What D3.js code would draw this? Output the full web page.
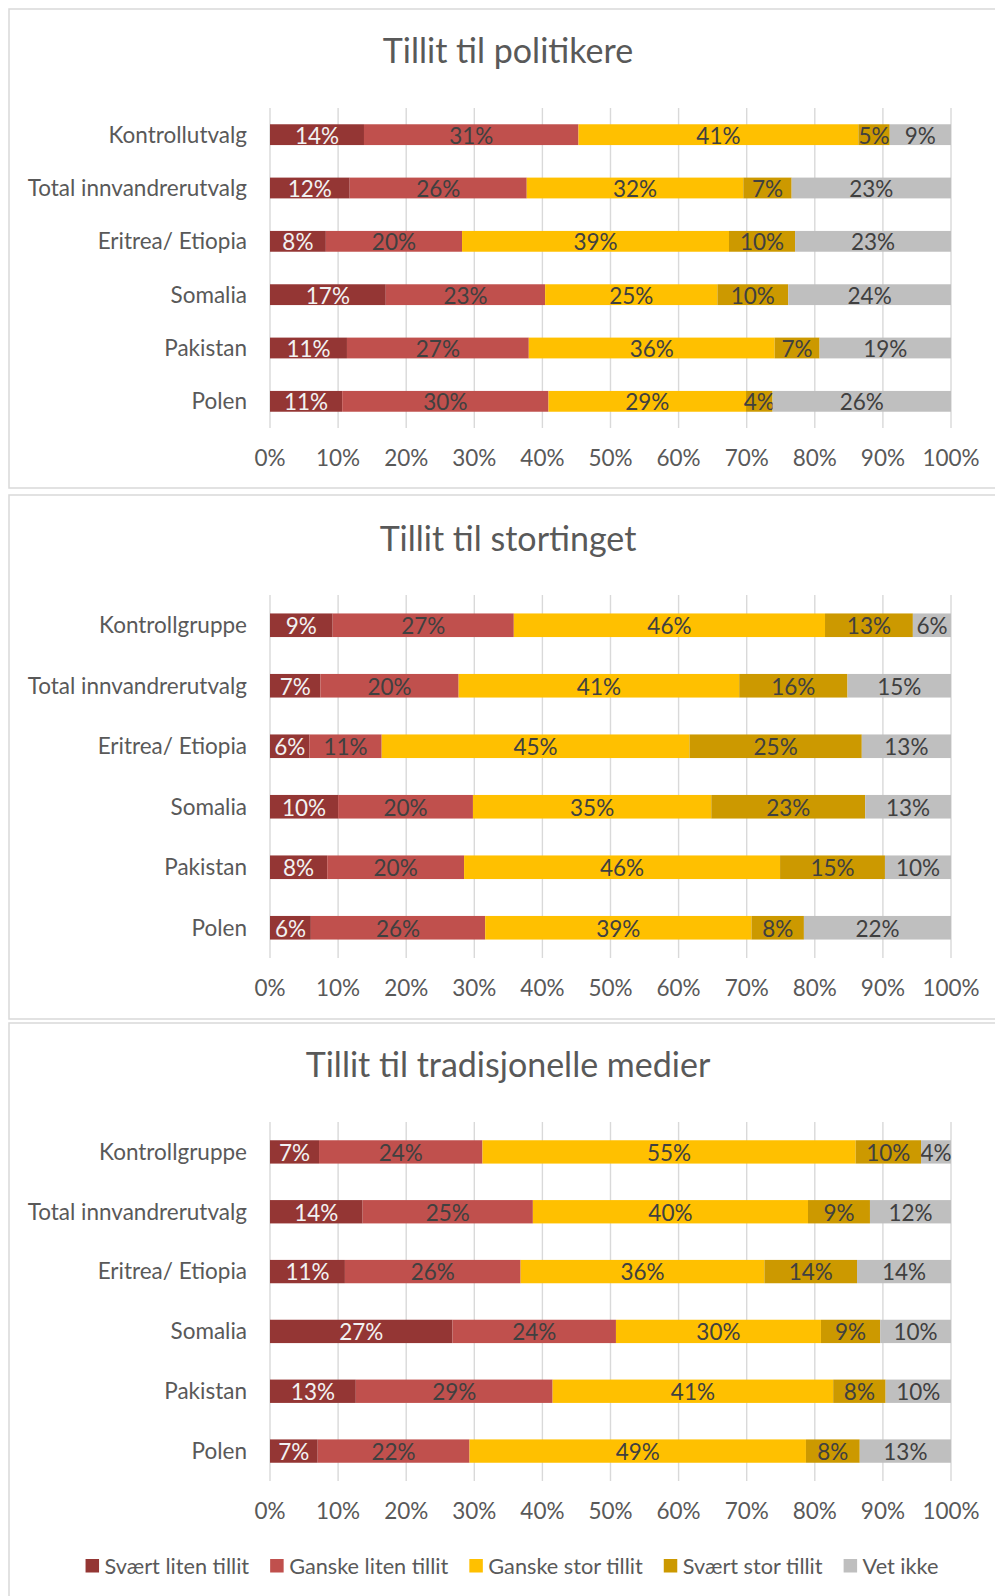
<!DOCTYPE html>
<html>
<head>
<meta charset="utf-8">
<script src="https://cdn.jsdelivr.net/npm/d3@7"></script>
<style>
  body { margin: 0; background: #fff; }
  svg { display: block; font-family: Lato, "Open Sans", sans-serif; }
</style>
</head>
<body>
<div id="chart"></div>
<script>
// series (stack order, left to right)
const seriesNames = ["Svært liten tillit", "Ganske liten tillit", "Ganske stor tillit", "Svært stor tillit", "Vet ikke"];
const seriesColors = ["#943634", "#c0504d", "#ffc000", "#cc9900", "#bfbfbf"];

const xTicks = [0, 10, 20, 30, 40, 50, 60, 70, 80, 90, 100];

// panel 1
const politikereTitle = "Tillit til politikere";
const politikereCats = ["Kontrollutvalg", "Total innvandrerutvalg", "Eritrea/ Etiopia", "Somalia", "Pakistan", "Polen"];
const politikereVals = [
  [13.8, 31.5, 41.1, 4.6, 9.0],
  [11.7, 26.0, 31.8, 7.1, 23.4],
  [8.2, 20.0, 39.2, 9.7, 22.9],
  [17.0, 23.4, 25.3, 10.4, 23.9],
  [11.3, 26.7, 36.1, 6.6, 19.3],
  [10.6, 30.3, 29.0, 3.9, 26.2]
];

// panel 2
const stortingetTitle = "Tillit til stortinget";
const stortingetCats = ["Kontrollgruppe", "Total innvandrerutvalg", "Eritrea/ Etiopia", "Somalia", "Pakistan", "Polen"];
const stortingetVals = [
  [9.2, 26.6, 45.7, 12.9, 5.6],
  [7.4, 20.3, 41.2, 15.9, 15.2],
  [5.8, 10.6, 45.2, 25.3, 13.1],
  [10.0, 19.8, 35.0, 22.6, 12.6],
  [8.4, 20.1, 46.4, 15.4, 9.7],
  [6.0, 25.6, 39.1, 7.7, 21.6]
];

// panel 3
const medierTitle = "Tillit til tradisjonelle medier";
const medierCats = ["Kontrollgruppe", "Total innvandrerutvalg", "Eritrea/ Etiopia", "Somalia", "Pakistan", "Polen"];
const medierVals = [
  [7.2, 24.0, 54.8, 9.6, 4.4],
  [13.6, 25.0, 40.4, 9.1, 11.9],
  [11.0, 25.8, 35.8, 13.6, 13.8],
  [26.8, 24.0, 30.1, 8.7, 10.4],
  [12.6, 28.9, 41.2, 7.7, 9.6],
  [7.0, 22.3, 49.4, 7.9, 13.4]
];

const width = 995, height = 1596;
const textColor = "#595959";

const svg = d3.select("#chart")
  .append("svg")
  .attr("width", width)
  .attr("height", height);

const x = d3.scaleLinear().domain([0, 100]).range([270, 951]);

function drawPanel(title, cats, vals, box) {
  const g = svg.append("g");

  g.append("rect")
    .attr("x", 9)
    .attr("y", box.y0)
    .attr("width", 998)
    .attr("height", box.y1 - box.y0)
    .attr("fill", "#fff")
    .attr("stroke", "#d9d9d9")
    .attr("stroke-width", 1.5);

  g.append("text")
    .attr("x", 508)
    .attr("y", box.titleY)
    .attr("text-anchor", "middle")
    .attr("fill", textColor)
    .style("font-size", "34px")
    .text(title);

  const y = d3.scaleBand()
    .domain(cats)
    .range([box.top, box.bottom])
    .paddingInner(0.61)
    .paddingOuter(0.305);

  // grid
  g.append("g")
    .selectAll("line")
    .data(xTicks)
    .join("line")
    .attr("x1", d => x(d))
    .attr("x2", d => x(d))
    .attr("y1", box.top)
    .attr("y2", box.bottom)
    .attr("stroke", "#d9d9d9")
    .attr("stroke-width", 1.4);

  // x tick labels
  g.append("g")
    .selectAll("text")
    .data(xTicks)
    .join("text")
    .attr("x", d => x(d))
    .attr("y", box.bottom + 30)
    .attr("dy", "0.35em")
    .attr("text-anchor", "middle")
    .attr("fill", textColor)
    .style("font-size", "22.5px")
    .text(d => d + "%");

  // category labels
  g.append("g")
    .selectAll("text")
    .data(cats)
    .join("text")
    .attr("x", 247)
    .attr("y", d => y(d) + y.bandwidth() / 2)
    .attr("dy", "0.35em")
    .attr("text-anchor", "end")
    .attr("fill", textColor)
    .style("font-size", "22.5px")
    .text(d => d);

  const rows = cats.map((c, i) => {
    const r = { cat: c };
    seriesNames.forEach((s, j) => r[s] = vals[i][j]);
    return r;
  });
  const stacked = d3.stack().keys(seriesNames)(rows);

  const layers = g.append("g")
    .selectAll("g")
    .data(stacked)
    .join("g")
    .attr("fill", (d, i) => seriesColors[i]);

  layers.selectAll("rect")
    .data(d => d)
    .join("rect")
    .attr("x", d => x(d[0]))
    .attr("y", d => y(d.data.cat))
    .attr("width", d => x(d[1]) - x(d[0]))
    .attr("height", y.bandwidth());

  layers.selectAll("text")
    .data((d, i) => d.map(p => ({ p: p, i: i })))
    .join("text")
    .attr("x", d => (x(d.p[0]) + x(d.p[1])) / 2)
    .attr("y", d => y(d.p.data.cat) + y.bandwidth() / 2 + 1)
    .attr("dy", "0.35em")
    .attr("text-anchor", "middle")
    .attr("fill", d => d.i === 0 ? "#f2f2f2" : "#404040")
    .style("font-size", "22.5px")
    .text(d => Math.round(d.p[1] - d.p[0]) + "%");
}

drawPanel(politikereTitle, politikereCats, politikereVals,
  { y0: 9, y1: 488, titleY: 63, top: 108, bottom: 428 });
drawPanel(stortingetTitle, stortingetCats, stortingetVals,
  { y0: 495, y1: 1019, titleY: 551, top: 595, bottom: 958 });
drawPanel(medierTitle, medierCats, medierVals,
  { y0: 1023, y1: 1610, titleY: 1077, top: 1122, bottom: 1481 });

// legend
const legend = svg.append("g");
const items = legend.selectAll("g")
  .data(seriesNames)
  .join("g");

items.append("rect")
  .attr("width", 13.5)
  .attr("height", 13.5)
  .attr("y", 1559)
  .attr("fill", (d, i) => seriesColors[i]);

items.append("text")
  .attr("x", 19)
  .attr("y", 1566)
  .attr("dy", "0.35em")
  .attr("fill", textColor)
  .style("font-size", "21.7px")
  .text(d => d);

// place items one after the other, centred
let offsets = [], pos = 0;
items.each(function () {
  offsets.push(pos);
  pos += 19 + d3.select(this).select("text").node().getComputedTextLength() + 21;
});
const total = pos - 21;
const start = 512 - total / 2;
items.attr("transform", (d, i) => `translate(${start + offsets[i]},0)`);
</script>
</body>
</html>
